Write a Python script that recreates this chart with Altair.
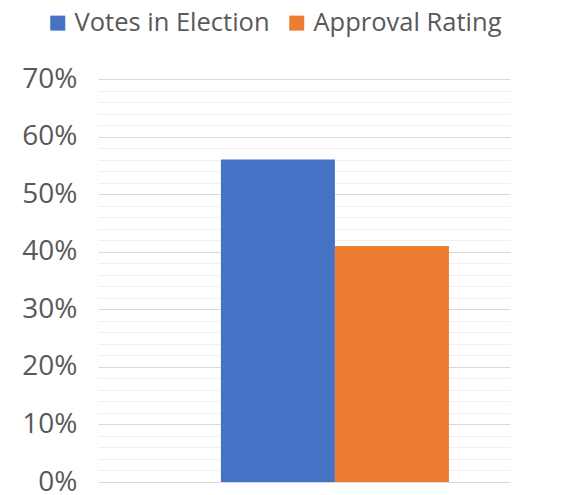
import altair as alt
import pandas as pd

series = ["Votes in Election", "Approval Rating"]
values = [0.56, 0.41]
colors = ["#4472C4", "#ED7D31"]
grid_values = [0.00, 0.02, 0.04, 0.06, 0.08, 0.10, 0.12, 0.14, 0.16, 0.18,
               0.20, 0.22, 0.24, 0.26, 0.28, 0.30, 0.32, 0.34, 0.36, 0.38,
               0.40, 0.42, 0.44, 0.46, 0.48, 0.50, 0.52, 0.54, 0.56, 0.58,
               0.60, 0.62, 0.64, 0.66, 0.68, 0.70]

df = pd.DataFrame({"series": series, "value": values})

FONT = "Open Sans"
TXT = "#595959"

chart = alt.Chart(df).mark_bar().encode(
    x=alt.X("series:N", sort=series, axis=None,
            scale=alt.Scale(paddingInner=0, paddingOuter=0.807, align=0.668)),
    y=alt.Y("value:Q", scale=alt.Scale(domain=[0, 0.7], nice=False),
            axis=alt.Axis(
                title=None, values=grid_values, domain=False, ticks=False,
                tickSize=0, labelPadding=21, labelFont=FONT, labelFontSize=28,
                labelColor=TXT,
                labelExpr="round(datum.value*100) % 10 == 0 ? format(datum.value, '.0%') : ''",
                gridColor={"condition": {"test": "round(datum.value*100) % 10 == 0", "value": "#d9d9d9"}, "value": "#f0f0f0"},
                gridWidth=1,
            )),
    color=alt.Color("series:N", sort=series,
                    scale=alt.Scale(domain=series, range=colors),
                    legend=alt.Legend(
                        title=None, orient="none", direction="horizontal",
                        legendX=-53, legendY=-69, padding=0,
                        symbolType="square", symbolSize=225, symbolStrokeWidth=0,
                        labelFont=FONT, labelFontSize=25.5, labelColor=TXT,
                        labelOffset=4, columnPadding=14, labelLimit=400,
                    )),
).properties(
    width=412, height=403,
    autosize=alt.AutoSizeParams(type="none"),
    padding={"left": 90, "top": 71, "right": 59, "bottom": 13},
    background="white",
).configure_view(stroke=None)

chart.save("out.html", embed_options={"renderer": "svg", "actions": False})
